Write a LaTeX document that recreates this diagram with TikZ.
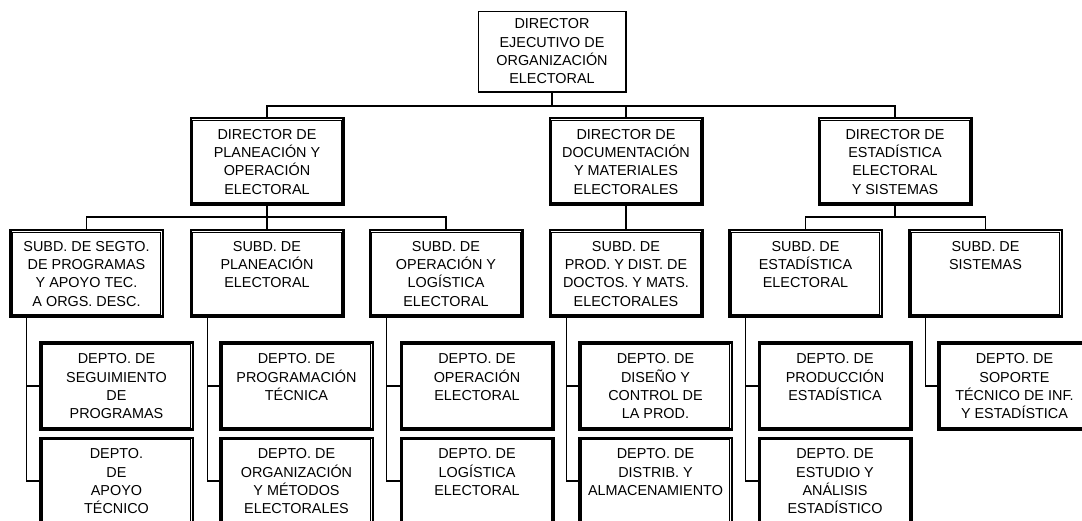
\documentclass[tikz,border=0pt]{standalone}
\usepackage{fontspec}
\setmainfont{Liberation Sans}
\newcommand{\boxtxt}[1]{\parbox[c][70pt][t]{150pt}{\centering\strut #1}}
\tikzset{
  conn/.style={line width=1.3pt, line cap=rect},
  topbox/.style={draw, line width=1.5pt, inner sep=0pt, minimum width=147.5pt, minimum height=80.5pt,
     font=\fontsize{14.4}{18.3}\selectfont},
  dbox/.style={draw, line width=2.5pt, inner sep=0pt, minimum width=152.5pt, minimum height=86.5pt,
     font=\fontsize{14.4}{18.3}\selectfont},
  innerline/.style={line width=0.9pt}
}
\begin{document}
\begin{tikzpicture}[x=1pt,y=-1pt]
\useasboundingbox (0,0) rectangle (1082,521);
\fill[white] (0,0) rectangle (1082,521);
% top
\node[topbox] (top) at (552,52) {\parbox[c][72pt][t]{145pt}{\centering\strut DIRECTOR\\EJECUTIVO DE\\ORGANIZACIÓN\\ELECTORAL}};
% directors
\node[dbox] (dir1) at (267,161.5) {\boxtxt{DIRECTOR DE\\PLANEACIÓN Y\\OPERACIÓN\\ELECTORAL}};
\node[dbox] (dir2) at (626,161.5) {\boxtxt{DIRECTOR DE\\DOCUMENTACIÓN\\Y MATERIALES\\ELECTORALES}};
\node[dbox] (dir3) at (895,161.5) {\boxtxt{DIRECTOR DE\\ESTADÍSTICA\\ELECTORAL\\Y SISTEMAS}};
% subdirections
\node[dbox] (s1) at (86.5,273.5) {\boxtxt{SUBD. DE SEGTO.\\DE PROGRAMAS\\Y APOYO TEC.\\A ORGS. DESC.}};
\node[dbox] (s2) at (267,273.5) {\boxtxt{SUBD. DE\\PLANEACIÓN\\ELECTORAL}};
\node[dbox] (s3) at (446,273.5) {\boxtxt{SUBD. DE\\OPERACIÓN Y\\LOGÍSTICA\\ELECTORAL}};
\node[dbox] (s4) at (626,273.5) {\boxtxt{SUBD. DE\\PROD. Y DIST. DE\\DOCTOS. Y MATS.\\ELECTORALES}};
\node[dbox] (s5) at (805.5,273.5) {\boxtxt{SUBD. DE\\ESTADÍSTICA\\ELECTORAL}};
\node[dbox] (s6) at (985.5,273.5) {\boxtxt{SUBD. DE\\SISTEMAS}};
% departments
\node[dbox] (d1a) at (116.5,386) {\boxtxt{DEPTO. DE\\SEGUIMIENTO\\DE\\PROGRAMAS}};
\node[dbox] (d1b) at (116.5,481) {\boxtxt{DEPTO.\\DE\\APOYO\\TÉCNICO}};
\node[dbox] (d2a) at (296.5,386) {\boxtxt{DEPTO. DE\\PROGRAMACIÓN\\TÉCNICA}};
\node[dbox] (d2b) at (296.5,481) {\boxtxt{DEPTO. DE\\ORGANIZACIÓN\\Y MÉTODOS\\ELECTORALES}};
\node[dbox] (d3a) at (477,386) {\boxtxt{DEPTO. DE\\OPERACIÓN\\ELECTORAL}};
\node[dbox] (d3b) at (477,481) {\boxtxt{DEPTO. DE\\LOGÍSTICA\\ELECTORAL}};
\node[dbox] (d4a) at (655.5,386) {\boxtxt{DEPTO. DE\\DISEÑO Y\\CONTROL DE\\LA PROD.}};
\node[dbox] (d4b) at (655.5,481) {\boxtxt{DEPTO. DE\\DISTRIB. Y\\ALMACENAMIENTO}};
\node[dbox] (d5a) at (835,386) {\boxtxt{DEPTO. DE\\PRODUCCIÓN\\ESTADÍSTICA}};
\node[dbox] (d5b) at (835,481) {\boxtxt{DEPTO. DE\\ESTUDIO Y\\ANÁLISIS\\ESTADÍSTICO}};
\node[dbox] (d6) at (1014.5,386) {\boxtxt{DEPTO. DE\\SOPORTE\\TÉCNICO DE INF.\\Y ESTADÍSTICA}};
% inner lines of double frames
\foreach \n in {dir1,dir2,dir3,s1,s2,s3,s4,s5,s6,d1a,d1b,d2a,d2b,d3a,d3b,d4a,d4b,d5a,d5b,d6}
  \draw[innerline] ([xshift=3.3pt,yshift=-3.3pt]\n.north west) rectangle ([xshift=-3.3pt,yshift=3.3pt]\n.south east);
% buses
\coordinate (bus1) at (0,106);
\coordinate (bus2) at (0,217);
\draw[conn] (top.south) -- (top.south |- bus1);
\draw[conn] (dir1.north) |- (dir3.north |- bus1) -- (dir3.north);
\draw[conn] (dir2.north) -- (dir2.north |- bus1);
\draw[conn] (dir1.south) -- (dir1.south |- bus2);
\draw[conn] (s1.north) |- (s3.north |- bus2) -- (s3.north);
\draw[conn] (s2.north) -- (s2.north |- bus2);
\draw[conn] (dir2.south) -- (s4.north);
\draw[conn] (dir3.south) -- (dir3.south |- bus2);
\draw[conn] (s5.north) |- (s6.north |- bus2) -- (s6.north);
% department branches
\foreach \s/\a/\b in {s1/d1a/d1b, s2/d2a/d2b, s3/d3a/d3b, s4/d4a/d4b, s5/d5a/d5b} {
  \coordinate (v) at ([xshift=17.75pt]\s.south west);
  \draw[conn] (v) |- (\b.west);
  \draw[conn] (\a.west) -- (\a.west -| v);
}
\coordinate (v6) at ([xshift=17.75pt]s6.south west);
\draw[conn] (v6) |- (d6.west);
\end{tikzpicture}
\end{document}
